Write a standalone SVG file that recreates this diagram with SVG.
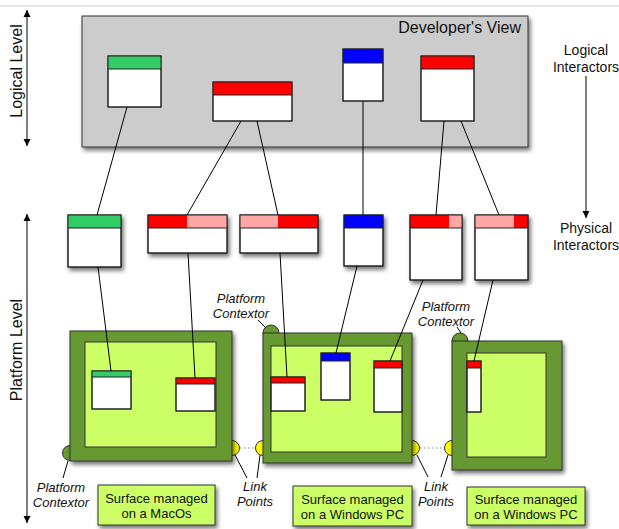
<svg xmlns="http://www.w3.org/2000/svg" width="619" height="529" viewBox="0 0 619 529">
<defs>
  <filter id="sh" x="-20%" y="-20%" width="150%" height="150%">
    <feGaussianBlur in="SourceAlpha" stdDeviation="2"/>
    <feOffset dx="2" dy="3" result="b"/>
    <feComponentTransfer><feFuncA type="linear" slope="0.55"/></feComponentTransfer>
    <feMerge><feMergeNode/><feMergeNode in="SourceGraphic"/></feMerge>
  </filter>
  <marker id="ah" viewBox="0 0 10 10" refX="10" refY="5" markerWidth="7" markerHeight="9" markerUnits="userSpaceOnUse" orient="auto-start-reverse">
    <path d="M0,0 L10,5 L0,10 z" fill="#000"/>
  </marker>
</defs>
<style>
  .ln{stroke:#000;stroke-width:1;fill:none}
  .win{fill:#fff;stroke:#222;stroke-width:1}
  .ol{fill:none;stroke:#222;stroke-width:1}
  .g{fill:#33cc66}
  .r{fill:#ff0000}
  .p{fill:#ffa6a6}
  .b{fill:#0000ff}
  .outer{fill:#669933;stroke:#333;stroke-width:1}
  .inner{fill:#ccff66;stroke:#333;stroke-width:1}
  .lab{fill:#ccff66;stroke:#333;stroke-width:1}
  .ctx{fill:#669933;stroke:#333;stroke-width:1}
  .lp{fill:#ffff00;stroke:#333;stroke-width:1}
  .t{font-family:"Liberation Sans",Arial,sans-serif;fill:#111}
  .it{font-family:"Liberation Sans",Arial,sans-serif;font-style:italic;font-size:13px;fill:#111;text-anchor:middle}
  .lt{font-family:"Liberation Sans",Arial,sans-serif;font-size:13px;fill:#111;text-anchor:middle}
</style>

<line x1="0" y1="6" x2="619" y2="6" stroke="#cccccc" stroke-width="1"/>

<g id="axis-logical">
  <line class="ln" x1="27" y1="10" x2="27" y2="146" marker-start="url(#ah)" marker-end="url(#ah)"/>
  <text class="t" font-size="16" transform="translate(21.5,71) rotate(-90)" text-anchor="middle">Logical Level</text>
</g>
<g id="axis-platform">
  <line class="ln" x1="27" y1="214" x2="27" y2="523" marker-start="url(#ah)" marker-end="url(#ah)"/>
  <text class="t" font-size="16" transform="translate(21.5,350) rotate(-90)" text-anchor="middle">Platform Level</text>
</g>
<g id="interactors-legend">
  <text class="t" font-size="14" x="586" y="55" text-anchor="middle">Logical</text>
  <text class="t" font-size="14" x="586" y="72" text-anchor="middle">Interactors</text>
  <line class="ln" x1="586" y1="76" x2="586" y2="218" marker-end="url(#ah)"/>
  <text class="t" font-size="14" x="586" y="233" text-anchor="middle">Physical</text>
  <text class="t" font-size="14" x="586" y="250" text-anchor="middle">Interactors</text>
</g>

<g id="developers-view">
  <rect x="82" y="16" width="446" height="131" fill="#cccccc" stroke="#333" stroke-width="1" filter="url(#sh)"/>
  <text class="t" font-size="16" x="521" y="33" text-anchor="end">Developer's View</text>
</g>

<g id="logical-green">
  <rect class="win" x="108" y="56" width="53" height="51"/>
  <rect class="g" x="108" y="56" width="53" height="13"/>
  <rect class="ol" x="108" y="56" width="53" height="51"/><line class="ol" x1="108" y1="69" x2="161" y2="69"/>
</g>
<g id="logical-red1">
  <rect class="win" x="213" y="82" width="79" height="39"/>
  <rect class="r" x="213" y="82" width="79" height="13"/>
  <rect class="ol" x="213" y="82" width="79" height="39"/><line class="ol" x1="213" y1="95" x2="292" y2="95"/>
</g>
<g id="logical-blue">
  <rect class="win" x="343" y="49" width="40" height="52"/>
  <rect class="b" x="343" y="49" width="40" height="14"/>
  <rect class="ol" x="343" y="49" width="40" height="52"/><line class="ol" x1="343" y1="63" x2="383" y2="63"/>
</g>
<g id="logical-red2">
  <rect class="win" x="421" y="56" width="53" height="65"/>
  <rect class="r" x="421" y="56" width="53" height="13"/>
  <rect class="ol" x="421" y="56" width="53" height="65"/><line class="ol" x1="421" y1="69" x2="474" y2="69"/>
</g>

<g id="physical-green" filter="url(#sh)">
  <rect class="win" x="68" y="215" width="53" height="52"/>
  <rect class="g" x="68" y="215" width="53" height="13"/>
  <rect class="ol" x="68" y="215" width="53" height="52"/><line class="ol" x1="68" y1="228" x2="121" y2="228"/>
</g>
<g id="physical-red-pink1" filter="url(#sh)">
  <rect class="win" x="148" y="215" width="79" height="38"/>
  <rect class="r" x="148" y="215" width="39" height="13"/>
  <rect class="p" x="187" y="215" width="40" height="13"/>
  <rect class="ol" x="148" y="215" width="79" height="38"/><line class="ol" x1="148" y1="228" x2="227" y2="228"/>
</g>
<g id="physical-pink-red2" filter="url(#sh)">
  <rect class="win" x="240" y="215" width="78" height="38"/>
  <rect class="p" x="240" y="215" width="38" height="13"/>
  <rect class="r" x="278" y="215" width="40" height="13"/>
  <rect class="ol" x="240" y="215" width="78" height="38"/><line class="ol" x1="240" y1="228" x2="318" y2="228"/>
</g>
<g id="physical-blue" filter="url(#sh)">
  <rect class="win" x="344" y="215" width="39" height="51"/>
  <rect class="b" x="344" y="215" width="39" height="13"/>
  <rect class="ol" x="344" y="215" width="39" height="51"/><line class="ol" x1="344" y1="228" x2="383" y2="228"/>
</g>
<g id="physical-red-pink3" filter="url(#sh)">
  <rect class="win" x="410" y="215" width="52" height="65"/>
  <rect class="r" x="410" y="215" width="39" height="13"/>
  <rect class="p" x="449" y="215" width="13" height="13"/>
  <rect class="ol" x="410" y="215" width="52" height="65"/><line class="ol" x1="410" y1="228" x2="462" y2="228"/>
</g>
<g id="physical-pink-red4" filter="url(#sh)">
  <rect class="win" x="475" y="215" width="53" height="65"/>
  <rect class="p" x="475" y="215" width="39" height="13"/>
  <rect class="r" x="514" y="215" width="14" height="13"/>
  <rect class="ol" x="475" y="215" width="53" height="65"/><line class="ol" x1="475" y1="228" x2="528" y2="228"/>
</g>

<g id="surface-macos">
  <circle class="ctx" cx="70" cy="453" r="7.5"/>
  <circle class="lp" cx="232" cy="448" r="7.5"/>
  <rect class="outer" x="70" y="331" width="162" height="130" filter="url(#sh)"/>
  <rect class="inner" x="85" y="342" width="131" height="105"/>
  <rect class="win" x="92" y="371" width="39" height="38"/>
  <rect class="g" x="92" y="371" width="39" height="6"/>
  <rect class="ol" x="92" y="371" width="39" height="38"/><line class="ol" x1="92" y1="377" x2="131" y2="377"/>
  <rect class="win" x="176" y="378" width="39" height="33"/>
  <rect class="r" x="176" y="378" width="39" height="6"/>
  <rect class="ol" x="176" y="378" width="39" height="33"/><line class="ol" x1="176" y1="384" x2="215" y2="384"/>
</g>

<g id="surface-windows1">
  <circle class="ctx" cx="271" cy="333" r="8"/>
  <circle class="lp" cx="263" cy="448" r="7.5"/>
  <circle class="lp" cx="412" cy="448" r="7.5"/>
  <rect class="outer" x="263" y="333" width="149" height="130" filter="url(#sh)"/>
  <rect class="inner" x="271" y="346" width="131" height="106"/>
  <rect class="win" x="271" y="377" width="34" height="34"/>
  <rect class="r" x="271" y="377" width="34" height="6"/>
  <rect class="ol" x="271" y="377" width="34" height="34"/><line class="ol" x1="271" y1="383" x2="305" y2="383"/>
  <rect class="win" x="321" y="353" width="29" height="47"/>
  <rect class="b" x="321" y="353" width="29" height="8"/>
  <rect class="ol" x="321" y="353" width="29" height="47"/><line class="ol" x1="321" y1="361" x2="350" y2="361"/>
  <rect class="win" x="374" y="361" width="28" height="51"/>
  <rect class="r" x="374" y="361" width="28" height="7"/>
  <rect class="ol" x="374" y="361" width="28" height="51"/><line class="ol" x1="374" y1="368" x2="402" y2="368"/>
</g>

<g id="surface-windows2">
  <circle class="ctx" cx="460" cy="341" r="8"/>
  <circle class="lp" cx="452" cy="448" r="7.5"/>
  <rect class="outer" x="452" y="341" width="110" height="129" filter="url(#sh)"/>
  <rect class="inner" x="467" y="353" width="79" height="104"/>
  <rect class="win" x="467" y="361" width="14" height="51"/>
  <rect class="r" x="467" y="361" width="14" height="7"/>
  <rect class="ol" x="467" y="361" width="14" height="51"/><line class="ol" x1="467" y1="368" x2="481" y2="368"/>
</g>

<g id="label-macos">
  <rect class="lab" x="98" y="485" width="117" height="40" filter="url(#sh)"/>
  <text class="lt" x="156.5" y="503">Surface managed</text>
  <text class="lt" x="156.5" y="518">on a MacOs</text>
</g>
<g id="label-windows1">
  <rect class="lab" x="293" y="486" width="119" height="40" filter="url(#sh)"/>
  <text class="lt" x="352.5" y="504">Surface managed</text>
  <text class="lt" x="352.5" y="519">on a Windows PC</text>
</g>
<g id="label-windows2">
  <rect class="lab" x="467" y="487" width="118" height="38" filter="url(#sh)"/>
  <text class="lt" x="526" y="504">Surface managed</text>
  <text class="lt" x="526" y="519">on a Windows PC</text>
</g>

<g id="annotations">
  <text class="it" x="61" y="492">Platform</text>
  <text class="it" x="61" y="507">Contextor</text>
  <text class="it" x="241" y="303">Platform</text>
  <text class="it" x="241" y="318">Contextor</text>
  <text class="it" x="446" y="311">Platform</text>
  <text class="it" x="446" y="326">Contextor</text>
  <text class="it" x="255" y="491">Link</text>
  <text class="it" x="255" y="506">Points</text>
  <text class="it" x="436" y="491">Link</text>
  <text class="it" x="436" y="506">Points</text>
</g>

<g id="connectors" class="ln">
  <line x1="127" y1="107" x2="97" y2="215"/>
  <line x1="241" y1="121" x2="187" y2="215"/>
  <line x1="257" y1="121" x2="278" y2="215"/>
  <line x1="363" y1="101" x2="363" y2="215"/>
  <line x1="444" y1="121" x2="436" y2="215"/>
  <line x1="461" y1="121" x2="499" y2="215"/>
  <line x1="98" y1="267" x2="111" y2="371"/>
  <line x1="188" y1="253" x2="195" y2="378"/>
  <line x1="280" y1="253" x2="287" y2="377"/>
  <line x1="357" y1="266" x2="336" y2="353"/>
  <line x1="423" y1="280" x2="390" y2="361"/>
  <line x1="493" y1="280" x2="474" y2="361"/>
  <line x1="63" y1="478" x2="68" y2="461"/>
  <line x1="258" y1="320" x2="266" y2="328"/>
  <line x1="457" y1="327" x2="461" y2="333"/>
  <line x1="247" y1="478" x2="235" y2="455"/>
  <line x1="257" y1="478" x2="260" y2="455"/>
  <line x1="428" y1="477" x2="417" y2="455"/>
  <line x1="441" y1="477" x2="448" y2="455"/>
  <line x1="240" y1="448" x2="255" y2="448" stroke="#888" stroke-dasharray="1.5,2.5"/>
  <line x1="420" y1="448" x2="444" y2="448" stroke="#888" stroke-dasharray="1.5,2.5"/>
</g>
</svg>
